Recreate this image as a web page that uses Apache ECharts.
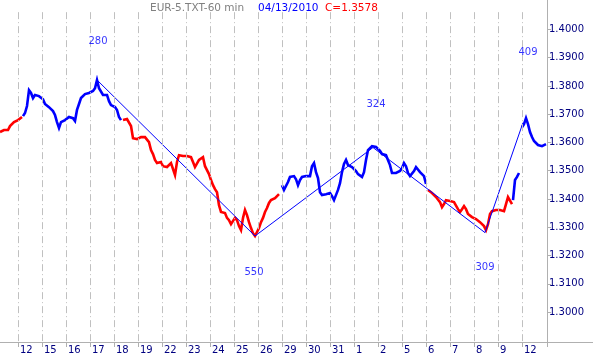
<!DOCTYPE html>
<html>
<head>
<meta charset="utf-8">
<script src="https://cdn.jsdelivr.net/npm/echarts@6/dist/echarts.min.js"></script>
<style>
html,body{margin:0;padding:0;background:#fff;}
#chart{width:593px;height:357px;}
</style>
</head>
<body>
<div id="chart"></div>
<script>
// ---------- DATA ----------
const dayLabels = ['12','15','16','17','18','19','22','23','24','25','26','29','30','31','1','2','5','6','7','8','9','12'];
const firstDayHour = 18;   // hourly bars before the first labelled day
const hoursPerDay = 24;
const barStep = 2;         // hours between sampled values

const yTickValues = [1.30,1.31,1.32,1.33,1.34,1.35,1.36,1.37,1.38,1.39,1.40];

// price segments (start hour, values every 2 hours)
const redAStart = 0;
const redA = [1.3637,1.3630,1.3644,1.3651,1.3644,1.3658,1.3665,1.3672,1.3676,1.3679,1.3679,1.3690];

const blueBStart = 23;
const blueB = [1.3693,1.3704,1.3729,1.3785,1.3775,1.3757,1.3768,1.3761,1.3764,1.3771,
  1.3753,1.3736,1.3743,1.3725,1.3718,1.3711,1.3697,1.3672,1.3651,1.3672,
  1.3676,1.3679,1.3686,1.3690,1.3693,1.3686,1.3676,1.3715,1.3736,1.3757,
  1.3764,1.3771,1.3771,1.3775,1.3778,1.3782,1.3792,1.3821,1.3792,1.3785,
  1.3768,1.3764,1.3768,1.3746,1.3732,1.3739,1.3725,1.3715,1.3690,1.3679];

const redCStart = 123;
const redC = [1.3679,1.3676,1.3683,1.3676,1.3658,1.3615,1.3619,1.3612,1.3612,1.3619,
  1.3615,1.3619,1.3623,1.3601,1.3573,1.3559,1.3538,1.3527,1.3531,1.3531,
  1.3516,1.3520,1.3513,1.3516,1.3527,1.3520,1.3485,1.3531,1.3555,1.3548,
  1.3552,1.3555,1.3552,1.3555,1.3548,1.3531,1.3513,1.3520,1.3538,1.3545,
  1.3548,1.3516,1.3502,1.3488,1.3467,1.3449,1.3435,1.3424,1.3378,1.3354,
  1.3347,1.3350,1.3333,1.3325,1.3311,1.3318,1.3333,1.3325,1.3304,1.3290,
  1.3333,1.3361,1.3343,1.3318,1.3297,1.3279,1.3269,1.3272,1.3297,1.3318,
  1.3333,1.3354,1.3368,1.3386,1.3396,1.3400,1.3403,1.3410,1.3417];

const blueDStart = 282;
const blueD = [1.3449,1.3432,1.3439,1.3460,1.3478,1.3485,1.3481,1.3470,1.3449,1.3467,
  1.3478,1.3481,1.3481,1.3485,1.3481,1.3516,1.3527,1.3495,1.3474,1.3424,
  1.3414,1.3421,1.3417,1.3417,1.3421,1.3410,1.3396,1.3396,1.3432,1.3456,
  1.3495,1.3524,1.3538,1.3520,1.3516,1.3513,1.3509,1.3499,1.3488,1.3488,
  1.3478,1.3495,1.3538,1.3573,1.3580,1.3587,1.3587,1.3584,1.3577,1.3570,
  1.3559,1.3559,1.3555,1.3548,1.3520,1.3492,1.3485,1.3492,1.3495,1.3499,
  1.3509,1.3527,1.3516,1.3492,1.3481,1.3488,1.3499,1.3513,1.3506,1.3495,
  1.3488,1.3481,1.3453];

const redEStart = 428;
const redE = [1.3432,1.3432,1.3421,1.3414,1.3407,1.3400,1.3389,1.3371,1.3382,1.3396,
  1.3400,1.3393,1.3386,1.3389,1.3386,1.3364,1.3354,1.3364,1.3375,1.3364,
  1.3347,1.3343,1.3336,1.3329,1.3329,1.3322,1.3318,1.3315,1.3304,1.3290,
  1.3311,1.3347,1.3357,1.3357,1.3361,1.3364,1.3361,1.3364,1.3357,1.3382,
  1.3407,1.3400,1.3382];

const blueFStart = 513;
const blueF = [1.3396,1.3467,1.3478,1.3492];

const blueGStart = 522;
const blueG = [1.3654,1.3665,1.3686,1.3665,1.3637,1.3619,1.3605,1.3598,1.3591,1.3591,1.3587,1.3591,1.3594];

// zigzag pivots
const pivotHours  = [97, 255, 373, 485, 523];
const pivotPrices = [1.3821, 1.3269, 1.3582, 1.3281, 1.3670];
const pivotLabels = ['280', '550', '324', '309', '409'];

const titleSymbol = 'EUR-5.TXT-60 min';
const titleDate = '04/13/2010';
const titleClose = 'C=1.3578';

// ---------- LAYOUT / STYLE ----------
const RED = '#ff0000', BLUE = '#0000ff', NAVY = '#000080', GRID_GRAY = '#c0c0c0', AXIS_GRAY = '#b0b0b0';
const FONT = 'DejaVu Sans';
const yMin = 1.2894, yMax = 1.4104;
const dashTop = 1.4061;
const xMax = 593, yAxisHour = 547;
const labelOffsets = [[1,-39],[-1,36],[3,-43],[0,35],[5,-70]];

const dayHours = dayLabels.map((d, i) => firstDayHour + i * hoursPerDay);

function seg(start, vals) { return vals.map((v, i) => [start + i * barStep, v]); }
function priceSeries(start, vals, color) {
  return {
    type: 'line', data: seg(start, vals), showSymbol: false, symbol: 'none',
    lineStyle: { color: color, width: 2.6, join: 'miter' }, z: 3, silent: true
  };
}

const chart = echarts.init(document.getElementById('chart'), null, { renderer: 'canvas' });
const option = {
  animation: false,
  backgroundColor: '#ffffff',
  title: [
    { text: titleSymbol, left: 150, top: 3, padding: 0, textStyle: { color: '#808080', fontSize: 10.5, fontWeight: 'normal', fontFamily: FONT } },
    { text: titleDate, left: 258, top: 3, padding: 0, textStyle: { color: BLUE, fontSize: 10.5, fontWeight: 'normal', fontFamily: FONT } },
    { text: titleClose, left: 325, top: 3, padding: 0, textStyle: { color: RED, fontSize: 10.5, fontWeight: 'normal', fontFamily: FONT } }
  ],
  grid: { left: 0, right: 0, top: 0, bottom: 15, containLabel: false },
  xAxis: {
    type: 'value', min: 0, max: xMax,
    axisLine: { show: true, onZero: false, lineStyle: { color: AXIS_GRAY, width: 1 } },
    axisTick: { show: true, customValues: dayHours.concat([yAxisHour]), length: 5, lineStyle: { color: AXIS_GRAY } },
    axisLabel: {
      customValues: dayHours,
      formatter: v => dayLabels[Math.round((v - firstDayHour) / hoursPerDay)],
      align: 'left', margin: 3, padding: [0, 0, 0, 2],
      color: NAVY, fontSize: 10, fontFamily: FONT
    },
    splitLine: { show: false }
  },
  yAxis: {
    type: 'value', position: 'right', offset: -(xMax - yAxisHour), min: yMin, max: yMax,
    axisLine: { show: true, onZero: false, lineStyle: { color: AXIS_GRAY, width: 1 } },
    axisTick: { show: true, customValues: yTickValues, length: 4, lineStyle: { color: AXIS_GRAY } },
    axisLabel: {
      customValues: yTickValues, formatter: v => v.toFixed(4), margin: 2,
      color: NAVY, fontSize: 10, fontFamily: FONT
    },
    splitLine: { show: false }
  },
  series: [
    {
      type: 'line', data: [], silent: true, z: 1,
      markLine: {
        silent: true, symbol: 'none', animation: false,
        lineStyle: { color: GRID_GRAY, type: [7, 3, 1, 3], width: 1 },
        label: { show: false },
        data: dayHours.map(h => [{ coord: [h, dashTop] }, { coord: [h, yMin] }])
      }
    },
    priceSeries(redAStart, redA, RED),
    priceSeries(blueBStart, blueB, BLUE),
    priceSeries(redCStart, redC, RED),
    priceSeries(blueDStart, blueD, BLUE),
    priceSeries(redEStart, redE, RED),
    priceSeries(blueFStart, blueF, BLUE),
    priceSeries(blueGStart, blueG, BLUE),
    {
      type: 'line', data: pivotHours.map((h, i) => [h, pivotPrices[i]]),
      showSymbol: false, symbol: 'none', lineStyle: { color: BLUE, width: 1 }, z: 4, silent: true
    },
    {
      type: 'scatter', symbolSize: 0, z: 5, silent: true,
      data: pivotHours.map((h, i) => ({
        value: [h, pivotPrices[i]],
        label: {
          show: true, position: 'inside', offset: labelOffsets[i],
          formatter: pivotLabels[i], color: BLUE, fontSize: 10, fontFamily: FONT
        }
      }))
    }
  ]
};
chart.setOption(option);
</script>
</body>
</html>
